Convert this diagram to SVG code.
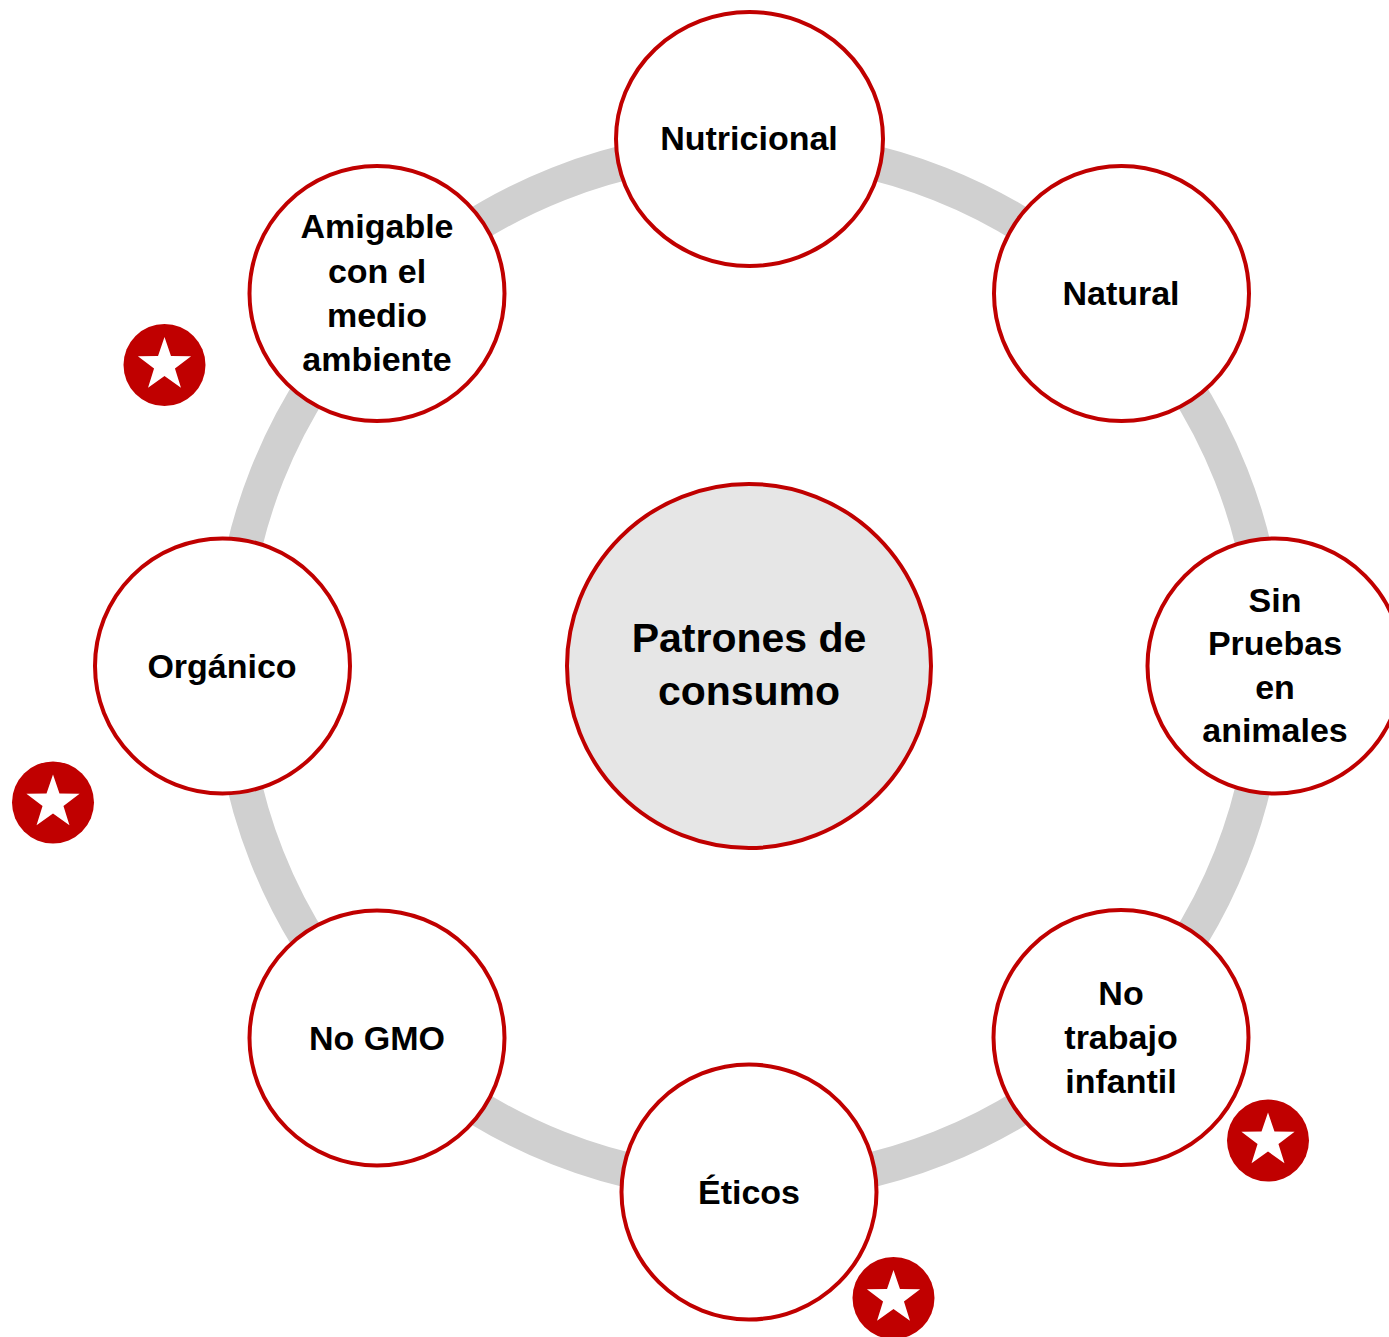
<svg xmlns="http://www.w3.org/2000/svg" width="1389" height="1337" viewBox="0 0 1389 1337">
<style>
.node{fill:#ffffff;stroke:#c00000;stroke-width:4}
.hub{fill:#e6e6e6;stroke:#c00000;stroke-width:4}
.lbl{font-family:"Liberation Sans",Arial,sans-serif;font-weight:bold;font-size:34px;fill:#000;text-anchor:middle}
.hubl{font-family:"Liberation Sans",Arial,sans-serif;font-weight:bold;font-size:41px;fill:#000;text-anchor:middle}
.badge{fill:#c00000}
.star{fill:#ffffff}
</style>
<defs>
<g id="starBadge">
<circle class="badge" cx="0" cy="0" r="41"/>
<path class="star" d="M0,-28 L6.47,-8.9 L26.6,-8.65 L10.46,3.4 L16.46,22.65 L0,11 L-16.46,22.65 L-10.46,3.4 L-26.6,-8.65 L-6.47,-8.9 Z"/>
</g>
</defs>
<rect width="1389" height="1337" fill="#ffffff"/>
<g id="connectors">
<circle cx="749" cy="666" r="518.5" fill="none" stroke="#d0d0d0" stroke-width="35"/>
</g>
<g id="center">
<circle class="hub" cx="749" cy="666" r="182"/>
<text class="hubl" x="749" y="652">Patrones de</text>
<text class="hubl" x="749" y="705">consumo</text>
</g>
<g id="nutricional">
<ellipse class="node" cx="749.5" cy="139" rx="133.5" ry="127"/>
<text class="lbl" x="749" y="150">Nutricional</text>
</g>
<g id="natural">
<circle class="node" cx="1121.5" cy="293.5" r="127.5"/>
<text class="lbl" x="1121" y="305">Natural</text>
</g>
<g id="sin-pruebas">
<circle class="node" cx="1275" cy="666" r="127.5"/>
<text class="lbl" x="1275" y="612">Sin</text>
<text class="lbl" x="1275" y="655">Pruebas</text>
<text class="lbl" x="1275" y="699">en</text>
<text class="lbl" x="1275" y="742">animales</text>
</g>
<g id="no-trabajo-infantil">
<circle class="node" cx="1121" cy="1037.5" r="127.5"/>
<text class="lbl" x="1121" y="1005">No</text>
<text class="lbl" x="1121" y="1049">trabajo</text>
<text class="lbl" x="1121" y="1093">infantil</text>
</g>
<g id="eticos">
<circle class="node" cx="749" cy="1192" r="127.5"/>
<text class="lbl" x="749" y="1204">Éticos</text>
</g>
<g id="no-gmo">
<circle class="node" cx="377" cy="1038" r="127.5"/>
<text class="lbl" x="377" y="1050">No GMO</text>
</g>
<g id="organico">
<circle class="node" cx="222.5" cy="666" r="127.5"/>
<text class="lbl" x="222" y="678">Orgánico</text>
</g>
<g id="amigable">
<circle class="node" cx="377" cy="293.5" r="127.5"/>
<text class="lbl" x="377" y="238">Amigable</text>
<text class="lbl" x="377" y="283">con el</text>
<text class="lbl" x="377" y="327">medio</text>
<text class="lbl" x="377" y="371">ambiente</text>
</g>
<g id="badges">
<use href="#starBadge" x="164.5" y="365"/>
<use href="#starBadge" x="53" y="802.5"/>
<use href="#starBadge" x="1268" y="1140.5"/>
<use href="#starBadge" x="893.5" y="1298"/>
</g>
</svg>
